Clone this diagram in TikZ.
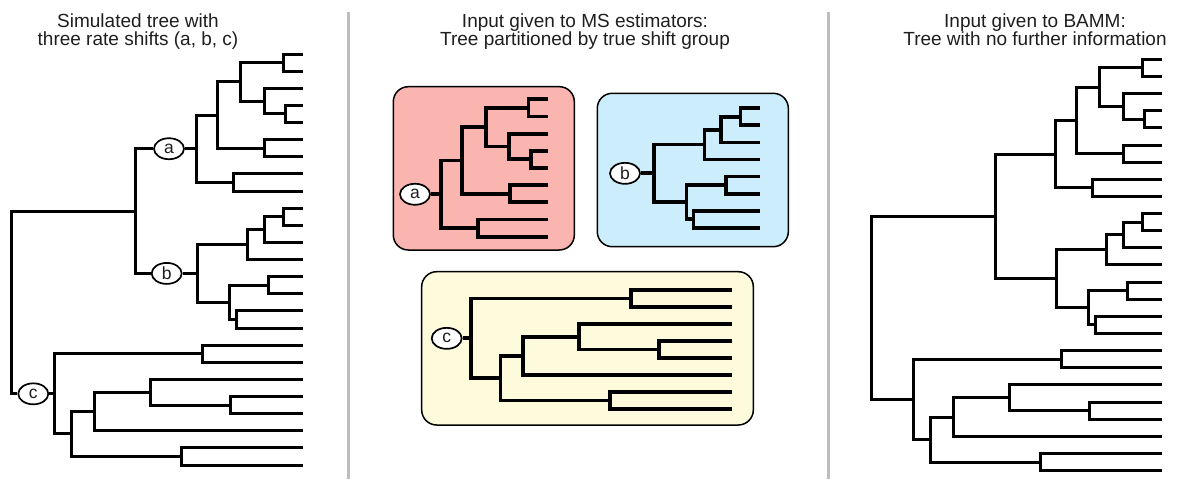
\documentclass[tikz,border=0pt]{standalone}
\usepackage{fontspec}
\setmainfont{Liberation Sans}
\usetikzlibrary{shapes.geometric}
\definecolor{pinkbox}{RGB}{250,181,176}
\definecolor{bluebox}{RGB}{204,238,252}
\definecolor{yelbox}{RGB}{254,250,220}
\definecolor{sepgray}{RGB}{190,190,190}
\definecolor{txt}{RGB}{30,30,30}
\tikzset{
 br/.style={draw=black, line width=3pt, line join=miter, line cap=butt},
 lbl/.style={ellipse, draw=black, line width=1.7pt, fill=white, minimum width=30pt, minimum height=21pt, inner sep=0pt, font=\fontsize{17.5}{17.5}\selectfont, text=txt},
 ttl/.style={anchor=base, font=\fontsize{19}{19}\selectfont, text=txt, inner sep=0pt},
 grp/.style={draw=black, line width=1.5pt, rounded corners=15pt, inner sep=0pt},
 sep/.style={draw=sepgray, line width=3pt}
}
% clade a: 9 tips
\newcommand{\CladeA}[1]{%
 \foreach \i in {0,...,8}{\coordinate (#1-t\i) at (0,\i);}
 \coordinate (#1-n1) at (-19.8,0.5);
 \coordinate (#1-n2) at (-17.5,3.5);
 \coordinate (#1-n3) at (-39,2.75);
 \coordinate (#1-n4) at (-62.5,1.625);
 \coordinate (#1-n5) at (-38.5,5.5);
 \coordinate (#1-n6) at (-86,3.5625);
 \coordinate (#1-n7) at (-70,7.5);
 \coordinate (#1-r) at (-107,5.53125);
 \draw[br] (#1-t0) -| (#1-n1) |- (#1-t1);
 \draw[br] (#1-t3) -| (#1-n2) |- (#1-t4);
 \draw[br] (#1-t2) -| (#1-n3) |- (#1-n2);
 \draw[br] (#1-n1) -| (#1-n4) |- (#1-n3);
 \draw[br] (#1-t5) -| (#1-n5) |- (#1-t6);
 \draw[br] (#1-n4) -| (#1-n6) |- (#1-n5);
 \draw[br] (#1-t7) -| (#1-n7) |- (#1-t8);
 \draw[br] (#1-n6) -| (#1-r) |- (#1-n7);
}
% clade b: 8 tips
\newcommand{\CladeB}[1]{%
 \foreach \i in {0,...,7}{\coordinate (#1-t\i) at (0,\i);}
 \coordinate (#1-m1) at (-19.6,0.5);
 \coordinate (#1-m2) at (-39,1.25);
 \coordinate (#1-m3) at (-55.5,2.125);
 \coordinate (#1-m4) at (-34.3,4.5);
 \coordinate (#1-m5) at (-66.5,6.5);
 \coordinate (#1-m6) at (-73.5,5.5);
 \coordinate (#1-r) at (-106,3.8125);
 \draw[br] (#1-t0) -| (#1-m1) |- (#1-t1);
 \draw[br] (#1-m1) -| (#1-m2) |- (#1-t2);
 \draw[br] (#1-m2) -| (#1-m3) |- (#1-t3);
 \draw[br] (#1-t4) -| (#1-m4) |- (#1-t5);
 \draw[br] (#1-t6) -| (#1-m5) |- (#1-t7);
 \draw[br] (#1-m4) -| (#1-m6) |- (#1-m5);
 \draw[br] (#1-m3) -| (#1-r) |- (#1-m6);
}
% clade c: 8 tips, #2 = x of clade root
\newcommand{\CladeC}[2]{%
 \foreach \i in {0,...,7}{\coordinate (#1-t\i) at (0,\i);}
 \coordinate (#1-k1) at (-100.5,0.5);
 \coordinate (#1-k2) at (-73,3.5);
 \coordinate (#1-k3) at (-153,2.75);
 \coordinate (#1-k4) at (-209,3.875);
 \coordinate (#1-k5) at (-121.5,6.5);
 \coordinate (#1-k6) at (-231.3,5.1875);
 \coordinate (#1-r) at (#2,2.84375);
 \draw[br] (#1-t0) -| (#1-k1) |- (#1-t1);
 \draw[br] (#1-t3) -| (#1-k2) |- (#1-t4);
 \draw[br] (#1-t2) -| (#1-k3) |- (#1-k2);
 \draw[br] (#1-k3) -| (#1-k4) |- (#1-t5);
 \draw[br] (#1-t6) -| (#1-k5) |- (#1-t7);
 \draw[br] (#1-k4) -| (#1-k6) |- (#1-k5);
 \draw[br] (#1-k1) -| (#1-r) |- (#1-k6);
}
\begin{document}
\begin{tikzpicture}[x=1pt,y=-1pt]
\useasboundingbox (0,0) rectangle (1180,479);
% titles
\node[ttl] (T1a) at (138,27.3) {Simulated tree with};
\node[ttl] (T1b) at (138,45.8) {three rate shifts (a, b, c)};
\node[ttl] (T2a) at (585,27.3) {Input given to MS estimators:};
\node[ttl] (T2b) at (585,45.8) {Tree partitioned by true shift group};
\node[ttl] (T3a) at (1035,27.3) {Input given to BAMM:};
\node[ttl] (T3b) at (1035,45.8) {Tree with no further information};
% separators
\draw[sep] (348.3,11.7) -- (348.3,479);
\draw[sep] (828.3,11.7) -- (828.3,479);
% ---------- left tree ----------
\begin{scope}[xshift=303pt,yshift=-54pt,y=-17.125pt]
 \CladeA{La}
 \node[lbl] (La-c) at (-134,5.53125) {a};
 \draw[br] (La-c) -- (La-r);
\end{scope}
\begin{scope}[xshift=303pt,yshift=-208.125pt,y=-17.125pt]
 \CladeB{Lb}
 \node[lbl] (Lb-c) at (-136.3,3.8125) {b};
 \draw[br] (Lb-c) -- (Lb-r);
\end{scope}
\begin{scope}[xshift=303pt,yshift=-345.125pt,y=-17.125pt]
 \CladeC{Lc}{-248.5}
 \node[lbl] (Lc-c) at (-269.7,2.84375) {c};
 \draw[br] (Lc-c) -- (Lc-r);
\end{scope}
\coordinate (Lab) at (135,211.07);
\coordinate (Lroot) at (11.7,302.4);
\draw[br] (La-c) -| (Lab) |- (Lb-c);
\draw[br] (Lab) -| (Lroot) |- (Lc-c);
% ---------- middle boxes ----------
\node[grp, fill=pinkbox, minimum width=181pt, minimum height=163.3pt] (boxa) at (483.8,168.35) {};
\node[grp, fill=bluebox, minimum width=191pt, minimum height=153.4pt] (boxb) at (692.8,170) {};
\node[grp, fill=yelbox, minimum width=331.6pt, minimum height=153.3pt] (boxc) at (587.5,348.35) {};
\begin{scope}[xshift=548.3pt,yshift=-99.3pt,y=-17.17pt,br/.append style={line width=3.8pt}]
 \CladeA{Ma}
 \node[lbl] (Ma-c) at (-133.3,5.53125) {a};
 \draw[br] (Ma-c) -- (Ma-r);
\end{scope}
\begin{scope}[xshift=760pt,yshift=-108.3pt,y=-17.06pt,br/.append style={line width=3.8pt}]
 \CladeB{Mb}
 \node[lbl] (Mb-c) at (-135,3.8125) {b};
 \draw[br] (Mb-c) -- (Mb-r);
\end{scope}
\begin{scope}[xshift=731.7pt,yshift=-290pt,y=-17pt,br/.append style={line width=3.8pt}]
 \CladeC{Mc}{-260.7}
 \node[lbl] (Mc-c) at (-285,2.84375) {c};
 \draw[br] (Mc-c) -- (Mc-r);
\end{scope}
% ---------- right tree ----------
\begin{scope}[xshift=1162pt,yshift=-59.3pt,y=-17.14pt]
 \CladeA{Ra}
\end{scope}
\begin{scope}[xshift=1162pt,yshift=-213.55pt,y=-17.14pt]
 \CladeB{Rb}
\end{scope}
\begin{scope}[xshift=1162pt,yshift=-350.68pt,y=-17.14pt]
 \CladeC{Rc}{-248.5}
\end{scope}
\coordinate (Rab) at (995,216.37);
\coordinate (Rroot) at (871.7,307.8);
\draw[br] (Ra-r) -| (Rab) |- (Rb-r);
\draw[br] (Rab) -| (Rroot) |- (Rc-r);
\end{tikzpicture}
\end{document}
